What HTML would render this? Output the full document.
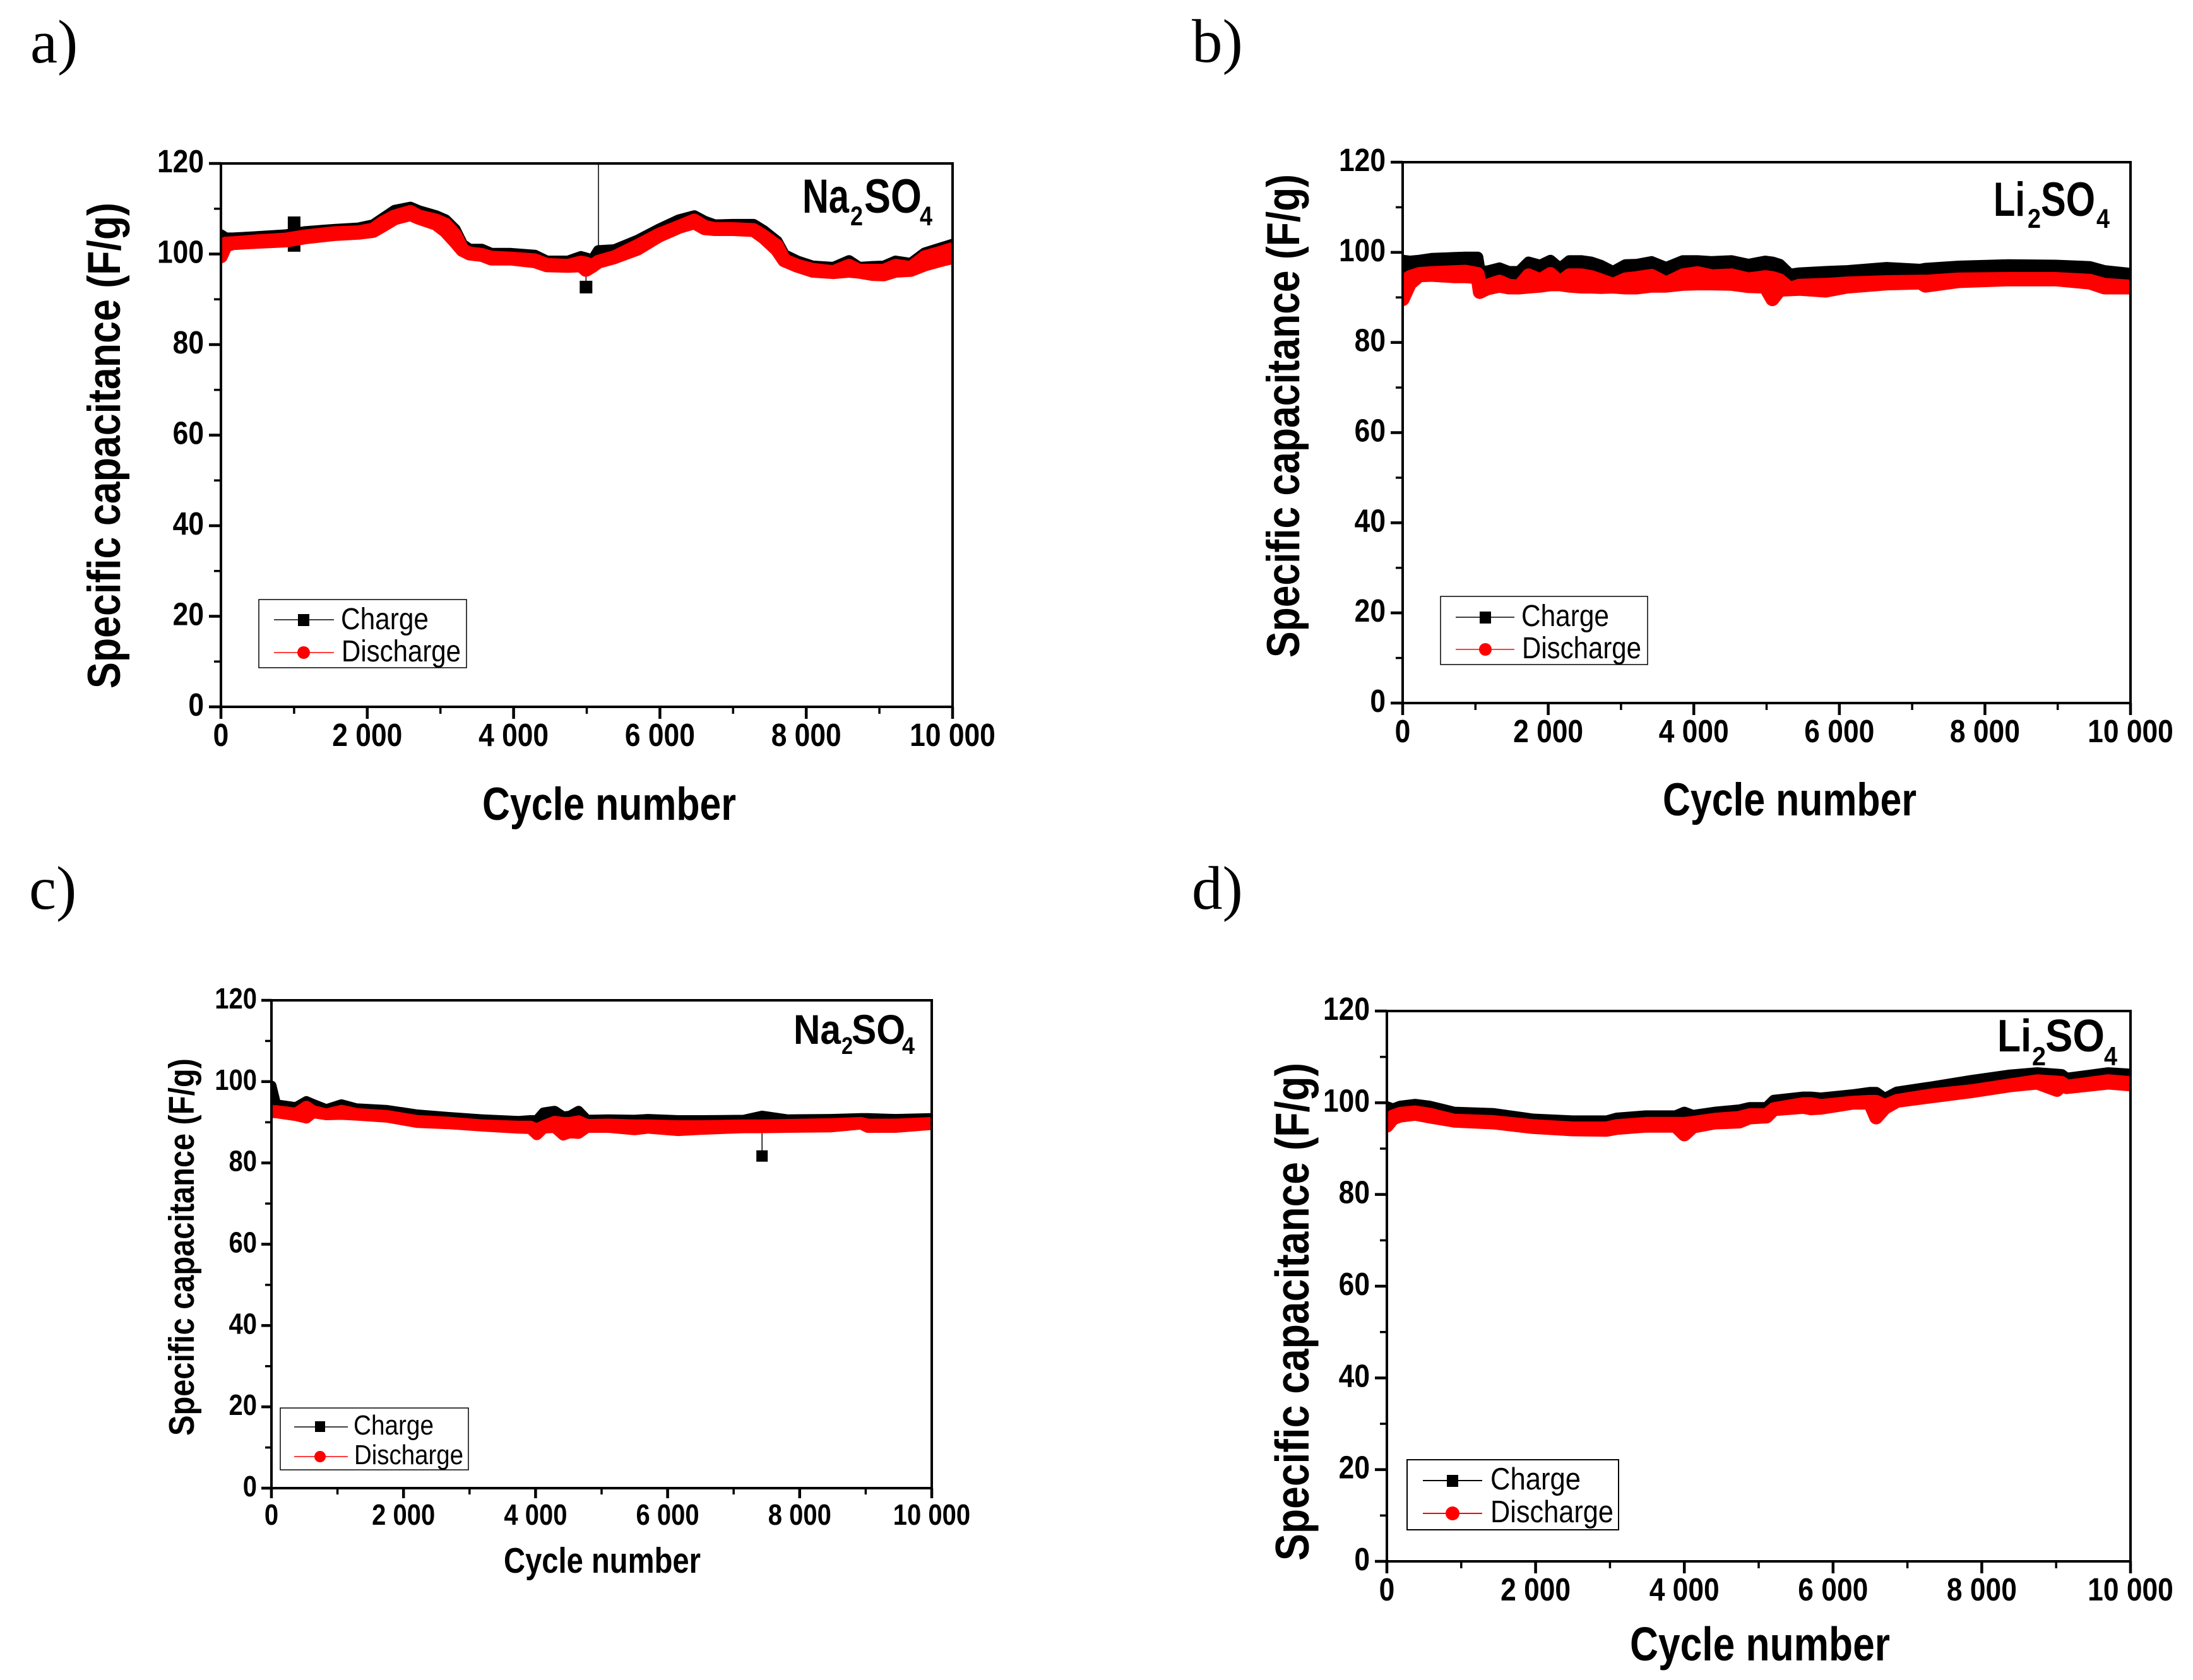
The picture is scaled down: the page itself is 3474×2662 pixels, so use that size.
<!DOCTYPE html>
<html lang="en">
<head>
<meta charset="utf-8">
<title>Specific capacitance vs cycle number</title>
<style>
html,body{margin:0;padding:0;background:#fff;}
svg{display:block;}
text{font-family:"Liberation Sans",Arial,sans-serif;fill:#000;}
.serif{font-family:"Liberation Serif","Times New Roman",serif;}
.b{font-weight:bold;}
</style>
</head>
<body>
<svg id="figure" xmlns="http://www.w3.org/2000/svg" width="3474" height="2662" viewBox="0 0 3474 2662">
<rect width="3474" height="2662" fill="#fff"/>
<defs>
<clipPath id="clip-a"><rect x="350" y="259" width="1159" height="861"/></clipPath>
<clipPath id="clip-b"><rect x="2222" y="257" width="1153" height="857"/></clipPath>
<clipPath id="clip-c"><rect x="430" y="1585" width="1046" height="773"/></clipPath>
<clipPath id="clip-d"><rect x="2197" y="1602" width="1178" height="872"/></clipPath>
</defs>

<!-- Panel a -->
<g id="panel-a">
<text class="serif" x="48" y="99" font-size="97">a)</text>
<text class="b" transform="translate(190,1091) rotate(-90)" font-size="73" textLength="770" lengthAdjust="spacingAndGlyphs">Specific capacitance (F/g)</text>
<text class="b" x="764" y="1299" font-size="73" textLength="402" lengthAdjust="spacingAndGlyphs">Cycle number</text>
<g>
<text class="b" x="1271" y="337" font-size="76" textLength="74" lengthAdjust="spacingAndGlyphs">Na</text>
<text class="b" x="1347" y="357" font-size="43" textLength="20" lengthAdjust="spacingAndGlyphs">2</text>
<text class="b" x="1369" y="337" font-size="76" textLength="91" lengthAdjust="spacingAndGlyphs">SO</text>
<text class="b" x="1457" y="357" font-size="43" textLength="20" lengthAdjust="spacingAndGlyphs">4</text>
</g>
</g>

<!-- Panel b -->
<g id="panel-b">
<text class="serif" x="1888" y="98" font-size="97">b)</text>
<text class="b" transform="translate(2058,1042) rotate(-90)" font-size="73" textLength="766" lengthAdjust="spacingAndGlyphs">Specific capacitance (F/g)</text>
<text class="b" x="2634" y="1292" font-size="73" textLength="402" lengthAdjust="spacingAndGlyphs">Cycle number</text>
<g>
<text class="b" x="3158" y="342" font-size="76" textLength="50" lengthAdjust="spacingAndGlyphs">Li</text>
<text class="b" x="3212" y="361" font-size="43" textLength="21" lengthAdjust="spacingAndGlyphs">2</text>
<text class="b" x="3233" y="342" font-size="76" textLength="86" lengthAdjust="spacingAndGlyphs">SO</text>
<text class="b" x="3321" y="361" font-size="43" textLength="21" lengthAdjust="spacingAndGlyphs">4</text>
</g>
</g>

<!-- Panel c -->
<g id="panel-c">
<text class="serif" x="46" y="1440" font-size="97">c)</text>
<text class="b" transform="translate(307,2275) rotate(-90)" font-size="57" textLength="598" lengthAdjust="spacingAndGlyphs">Specific capacitance (F/g)</text>
<text class="b" x="798" y="2492" font-size="57" textLength="312" lengthAdjust="spacingAndGlyphs">Cycle number</text>
<g>
<text class="b" x="1257" y="1654" font-size="66" textLength="75" lengthAdjust="spacingAndGlyphs">Na</text>
<text class="b" x="1333" y="1670" font-size="38" textLength="18" lengthAdjust="spacingAndGlyphs">2</text>
<text class="b" x="1349" y="1654" font-size="66" textLength="85" lengthAdjust="spacingAndGlyphs">SO</text>
<text class="b" x="1429" y="1670" font-size="38" textLength="20" lengthAdjust="spacingAndGlyphs">4</text>
</g>
</g>

<!-- Panel d -->
<g id="panel-d">
<text class="serif" x="1888" y="1440" font-size="97">d)</text>
<text class="b" transform="translate(2073,2473) rotate(-90)" font-size="75" textLength="789" lengthAdjust="spacingAndGlyphs">Specific capacitance (F/g)</text>
<text class="b" x="2582" y="2631" font-size="75" textLength="412" lengthAdjust="spacingAndGlyphs">Cycle number</text>
<g>
<text class="b" x="3164" y="1666" font-size="72" textLength="54" lengthAdjust="spacingAndGlyphs">Li</text>
<text class="b" x="3219" y="1688" font-size="42" textLength="22" lengthAdjust="spacingAndGlyphs">2</text>
<text class="b" x="3240" y="1666" font-size="72" textLength="94" lengthAdjust="spacingAndGlyphs">SO</text>
<text class="b" x="3333" y="1688" font-size="42" textLength="21" lengthAdjust="spacingAndGlyphs">4</text>
</g>
</g>

<!-- Legends -->
<g>
<rect x="410" y="950" width="329" height="108" fill="#fff" stroke="#000" stroke-width="1.5"/>
<g>
<line x1="434" x2="529" y1="982" y2="982" stroke="#000" stroke-width="1.5"/>
<rect x="472" y="973" width="18" height="19" fill="#000"/>
<text x="540" y="997" font-size="48" textLength="139" lengthAdjust="spacingAndGlyphs">Charge</text>
</g>
<g>
<line x1="434" x2="529" y1="1034" y2="1034" stroke="#f00" stroke-width="1.5"/>
<circle cx="481" cy="1034" r="10" fill="#f00"/>
<text x="541" y="1048" font-size="48" textLength="189" lengthAdjust="spacingAndGlyphs">Discharge</text>
</g>
</g>
<g>
<rect x="2282" y="945" width="328" height="108" fill="#fff" stroke="#000" stroke-width="1.5"/>
<g>
<line x1="2306" x2="2399" y1="978" y2="978" stroke="#000" stroke-width="1.5"/>
<rect x="2344" y="969" width="18" height="19" fill="#000"/>
<text x="2410" y="992" font-size="48" textLength="139" lengthAdjust="spacingAndGlyphs">Charge</text>
</g>
<g>
<line x1="2306" x2="2399" y1="1029" y2="1029" stroke="#f00" stroke-width="1.5"/>
<circle cx="2353" cy="1029" r="10" fill="#f00"/>
<text x="2411" y="1043" font-size="48" textLength="189" lengthAdjust="spacingAndGlyphs">Discharge</text>
</g>
</g>
<g>
<rect x="444" y="2231" width="298" height="98" fill="#fff" stroke="#000" stroke-width="1.5"/>
<g>
<line x1="466" x2="551" y1="2261" y2="2261" stroke="#000" stroke-width="1.5"/>
<rect x="499" y="2252" width="16" height="17" fill="#000"/>
<text x="560" y="2273" font-size="44" textLength="127" lengthAdjust="spacingAndGlyphs">Charge</text>
</g>
<g>
<line x1="466" x2="551" y1="2308" y2="2308" stroke="#f00" stroke-width="1.5"/>
<circle cx="507" cy="2308" r="9" fill="#f00"/>
<text x="561" y="2320" font-size="44" textLength="173" lengthAdjust="spacingAndGlyphs">Discharge</text>
</g>
</g>
<g>
<rect x="2229" y="2313" width="335" height="111" fill="#fff" stroke="#000" stroke-width="2"/>
<g>
<line x1="2254" x2="2348" y1="2346" y2="2346" stroke="#000" stroke-width="2"/>
<rect x="2292" y="2337" width="18" height="19" fill="#000"/>
<text x="2361" y="2360" font-size="49" textLength="143" lengthAdjust="spacingAndGlyphs">Charge</text>
</g>
<g>
<line x1="2254" x2="2348" y1="2398" y2="2398" stroke="#f00" stroke-width="2"/>
<circle cx="2301" cy="2398" r="11" fill="#f00"/>
<text x="2361" y="2412" font-size="49" textLength="195" lengthAdjust="spacingAndGlyphs">Discharge</text>
</g>
</g>
</svg>

<script>
const yTicks = [0, 20, 40, 60, 80, 100, 120];
const yTickLabels = ['0', '20', '40', '60', '80', '100', '120'];
const yMinorTicks = [10, 30, 50, 70, 90, 110];
const xTicks = [0, 2000, 4000, 6000, 8000, 10000];
const xTickLabels = ['0', '2 000', '4 000', '6 000', '8 000', '10 000'];
const xMinorTicks = [1000, 3000, 5000, 7000, 9000];

const aCycles = [0,65,165,495,890,1155,1550,1880,2080,2210,2375,2590,2705,2940,3070,3200,3300,3400,3565,3695,3960,4290,4455,4745,4920,4990,5080,5160,5380,5695,5980,6260,6470,6610,6750,7000,7280,7420,7600,7700,7880,8090,8370,8585,8725,8900,9060,9220,9430,9620,9820,10000];
const aCharge = [104.2,103.5,103.5,103.8,104.2,104.9,105.4,105.7,106.4,107.8,109.6,110.3,109.5,108.4,107.5,105.4,102.1,101.0,101.0,100.1,100.1,99.7,98.4,98.4,99.4,99.1,98.6,100.7,100.9,103.0,105.4,107.5,108.4,107.2,106.4,106.5,106.5,105.1,102.8,99.8,98.4,97.3,97.0,98.5,97.0,97.2,97.3,98.4,97.9,100.2,101.2,102.1];
const aDischargeHigh = [101.1,102.3,102.4,102.8,103.2,103.9,104.6,104.8,105.4,106.9,108.3,109.3,108.3,107.4,106.5,104.2,100.9,100.1,99.8,99.2,99.0,98.6,97.6,97.4,98.1,97.9,97.4,98.3,99.3,101.8,104.2,106.0,107.4,106.0,105.5,105.5,105.3,103.9,101.8,98.6,97.4,96.5,96.0,97.4,96.3,96.3,96.3,97.4,96.9,99.3,100.2,101.1];
const aDischargeLow = [99.5,101.9,102.4,102.7,103.0,103.7,104.4,104.7,105.1,106.3,107.9,108.8,108.0,106.7,105.1,102.8,100.9,100.1,99.8,99.0,99.0,98.4,97.5,97.4,97.5,96.5,97.4,98.3,99.3,101.2,104.0,106.0,107.0,105.7,105.5,105.5,105.3,103.7,101.0,98.6,97.4,96.3,96.0,96.3,96.1,95.6,95.5,96.3,96.5,97.7,98.6,99.3];
const aOutlierCycles = [1000, 1000, 4990, 5160];
const aOutlierValues = [106.9, 101.9, 92.7, 130];

const bCycles = [0,100,230,400,700,860,1030,1060,1160,1330,1460,1600,1730,1890,2030,2160,2290,2460,2590,2720,2890,3060,3220,3420,3620,3850,4050,4250,4520,4750,4980,5080,5180,5320,5450,5810,6110,6650,7110,7180,7640,8310,8970,9440,9640,10000];
const bCharge = [98.2,98.0,98.2,98.6,98.8,98.9,98.9,95.9,95.8,96.5,95.7,95.7,97.8,97.1,98.2,96.4,98.1,98.1,97.8,97.1,95.7,97.2,97.3,97.9,96.6,98.1,98.1,97.9,98.1,97.3,98.0,97.8,97.3,95.1,95.4,95.7,95.9,96.6,96.2,96.4,96.9,97.2,97.1,96.8,95.9,95.3];
const bDischargeHigh = [93.3,94.5,95.2,95.4,95.6,95.7,95.2,92.6,92.6,93.5,92.6,92.4,94.9,93.8,95.2,93.3,94.9,94.9,94.5,93.8,92.8,94.0,94.3,94.8,93.1,94.9,95.4,94.7,94.9,94.0,94.5,94.3,93.8,91.9,92.6,92.8,93.1,93.4,93.5,93.5,94.0,94.1,94.1,93.7,92.8,92.4];
const bDischargeLow = [89.6,93.1,94.9,95.0,94.7,94.7,94.5,91.2,92.0,92.6,92.2,92.2,92.4,92.6,92.9,92.9,92.6,92.4,92.4,92.3,92.4,92.2,92.2,92.6,92.6,93.0,93.1,93.1,93.0,92.5,92.4,89.6,91.7,91.8,91.9,91.5,92.4,93.1,93.3,92.6,93.6,94.0,94.0,93.3,92.2,92.2];
const bOutlierCycles = [];
const bOutlierValues = [];

const cCycles = [0,70,370,530,630,830,1060,1290,1750,2210,2670,3200,3730,3920,4020,4120,4290,4420,4520,4650,4780,5110,5500,5700,6160,6490,7150,7430,7810,8470,8930,9030,9450,10000];
const cCharge = [99.0,94.4,93.7,95.2,94.5,93.2,94.4,93.4,93.0,91.9,91.3,90.7,90.3,90.5,90.5,92.4,92.8,91.4,91.6,92.8,90.6,90.7,90.6,90.8,90.5,90.5,90.6,91.6,90.7,90.8,91.0,91.0,90.8,91.0];
const cDischargeHigh = [92.8,92.8,92.2,93.9,92.8,92.0,92.9,92.1,91.6,90.4,90.0,89.3,89.0,89.0,88.3,89.1,90.2,89.9,89.9,90.3,89.4,89.5,89.3,89.3,89.1,89.1,89.3,89.3,89.4,89.6,89.9,89.5,89.5,89.9];
const cDischargeLow = [92.4,92.4,91.7,91.1,92.4,91.9,92.0,91.8,91.3,90.0,89.7,89.1,88.6,88.5,87.0,88.6,88.8,86.9,87.5,87.3,88.8,88.8,88.2,88.6,88.0,88.3,88.7,88.7,88.8,88.9,89.6,88.8,88.8,89.5];
const cOutlierCycles = [7430];
const cOutlierValues = [81.7];

const dCycles = [0,80,180,380,575,905,1435,1965,2495,2955,3090,3485,3880,4000,4115,4410,4740,4875,5105,5205,5600,5700,5835,6265,6495,6580,6695,6860,7320,7850,8380,8745,9010,9075,9140,9700,10000];
const dCharge = [99.1,98.6,99.2,99.6,99.2,97.9,97.6,96.4,96.0,96.0,96.6,97.1,97.1,97.9,97.2,97.9,98.4,98.9,98.9,100.5,101.2,101.2,101.0,101.7,102.2,102.2,100.9,102.3,103.4,104.8,106.0,106.5,106.2,106.1,105.3,106.5,106.2];
const dDischargeHigh = [95.8,97.0,97.6,97.9,97.4,96.1,95.8,94.9,94.4,94.4,94.9,95.4,95.4,95.4,95.6,96.3,96.7,97.3,97.3,98.6,99.7,99.7,99.3,100.0,100.2,100.2,99.3,100.4,101.6,102.5,103.8,104.7,104.4,104.3,103.5,104.7,104.3];
const dDischargeLow = [95.0,96.6,97.2,97.6,97.0,96.1,95.7,94.7,94.2,94.1,94.5,95.0,95.0,93.1,94.8,95.7,95.9,96.8,97.0,98.6,99.1,98.8,98.9,100.0,100.0,96.8,98.9,100.4,101.4,102.5,103.8,104.4,102.8,103.9,103.4,104.4,104.0];
const dOutlierCycles = [];
const dOutlierValues = [];

const SVG_NS = 'http://www.w3.org/2000/svg';
const X_MAX = 10000;
const Y_MAX = 120;

function labelWidth(label, fontSize, squeeze) {
  let w = 0;
  for (const ch of label) { w += (ch === ' ' ? 0.278 : 0.556); }
  return w * fontSize * squeeze;
}

function nearestValue(cycles, values, c) {
  let best = 0;
  cycles.forEach(function (v, i) { if (Math.abs(v - c) < Math.abs(cycles[best] - c)) best = i; });
  return values[best];
}

function bandPoints(cycles, upper, lower, sx, sy) {
  const pts = [];
  cycles.forEach(function (c, i) { pts.push(sx(c).toFixed(1) + ',' + sy(upper[i]).toFixed(1)); });
  for (let i = cycles.length - 1; i >= 0; i--) { pts.push(sx(cycles[i]).toFixed(1) + ',' + sy(lower[i]).toFixed(1)); }
  return pts.join(' ');
}

function drawPanel(groupId, clipId, box, style, cycles, charge, dischargeHigh, dischargeLow, outlierCycles, outlierValues) {
  const root = document.getElementById(groupId);
  const sx = function (c) { return box.left + (c / X_MAX) * (box.right - box.left); };
  const sy = function (v) { return box.bottom - (v / Y_MAX) * (box.bottom - box.top); };

  const plot = document.createElementNS(SVG_NS, 'g');
  
  
  plot.setAttribute('clip-path', 'url(#' + clipId + ')');
  root.appendChild(plot);

  outlierCycles.forEach(function (c, i) {
    const connector = document.createElementNS(SVG_NS, 'line');
    
    
    connector.setAttribute('x1', sx(c));
    connector.setAttribute('x2', sx(c));
    connector.setAttribute('y1', sy(outlierValues[i]));
    connector.setAttribute('y2', sy(nearestValue(cycles, charge, c)));
    connector.setAttribute('stroke', '#000');
    connector.setAttribute('stroke-width', '1.5');
    plot.appendChild(connector);
    const marker = document.createElementNS(SVG_NS, 'rect');
    
    
    marker.setAttribute('x', sx(c) - style.blackSize / 2 - 1);
    marker.setAttribute('y', sy(outlierValues[i]) - style.blackSize / 2 - 1);
    marker.setAttribute('width', style.blackSize + 2);
    marker.setAttribute('height', style.blackSize + 2);
    marker.setAttribute('fill', '#000');
    plot.appendChild(marker);
  });

  const chargeBand = document.createElementNS(SVG_NS, 'polygon');
  
  
  chargeBand.setAttribute('points', bandPoints(cycles, charge, dischargeHigh, sx, sy));
  chargeBand.setAttribute('fill', '#000');
  chargeBand.setAttribute('stroke', '#000');
  chargeBand.setAttribute('stroke-width', style.blackSize);
  chargeBand.setAttribute('stroke-linejoin', 'round');
  plot.appendChild(chargeBand);

  const dischargeBand = document.createElementNS(SVG_NS, 'polygon');
  
  
  dischargeBand.setAttribute('points', bandPoints(cycles, dischargeHigh, dischargeLow, sx, sy));
  dischargeBand.setAttribute('fill', '#f00');
  dischargeBand.setAttribute('stroke', '#f00');
  dischargeBand.setAttribute('stroke-width', style.redSize);
  dischargeBand.setAttribute('stroke-linejoin', 'round');
  plot.appendChild(dischargeBand);

  const frame = document.createElementNS(SVG_NS, 'rect');
  
  
  frame.setAttribute('x', box.left);
  frame.setAttribute('y', box.top);
  frame.setAttribute('width', box.right - box.left);
  frame.setAttribute('height', box.bottom - box.top);
  frame.setAttribute('fill', 'none');
  frame.setAttribute('stroke', '#000');
  frame.setAttribute('stroke-width', '4');
  root.appendChild(frame);

  yTicks.forEach(function (v, i) {
    const tick = document.createElementNS(SVG_NS, 'line');
    
    
    tick.setAttribute('x1', box.left - style.majorLen);
    tick.setAttribute('x2', box.left);
    tick.setAttribute('y1', sy(v));
    tick.setAttribute('y2', sy(v));
    tick.setAttribute('stroke', '#000');
    tick.setAttribute('stroke-width', '4.5');
    root.appendChild(tick);
    const label = document.createElementNS(SVG_NS, 'text');
    
    
    label.setAttribute('class', 'b');
    label.setAttribute('x', box.left - style.yLabelGap);
    label.setAttribute('y', sy(v) + style.yLabelDrop);
    label.setAttribute('text-anchor', 'end');
    label.setAttribute('font-size', style.tickFont);
    label.setAttribute('textLength', labelWidth(yTickLabels[i], style.tickFont, style.squeeze));
    label.setAttribute('lengthAdjust', 'spacingAndGlyphs');
    label.textContent = yTickLabels[i];
    root.appendChild(label);
  });

  yMinorTicks.forEach(function (v) {
    const tick = document.createElementNS(SVG_NS, 'line');
    
    
    tick.setAttribute('x1', box.left - style.minorLen);
    tick.setAttribute('x2', box.left);
    tick.setAttribute('y1', sy(v));
    tick.setAttribute('y2', sy(v));
    tick.setAttribute('stroke', '#000');
    tick.setAttribute('stroke-width', '3.5');
    root.appendChild(tick);
  });

  xTicks.forEach(function (c, i) {
    const tick = document.createElementNS(SVG_NS, 'line');
    
    
    tick.setAttribute('x1', sx(c));
    tick.setAttribute('x2', sx(c));
    tick.setAttribute('y1', box.bottom);
    tick.setAttribute('y2', box.bottom + style.majorLen);
    tick.setAttribute('stroke', '#000');
    tick.setAttribute('stroke-width', '4.5');
    root.appendChild(tick);
    const label = document.createElementNS(SVG_NS, 'text');
    
    
    label.setAttribute('class', 'b');
    label.setAttribute('x', sx(c));
    label.setAttribute('y', box.bottom + style.xLabelDrop);
    label.setAttribute('text-anchor', 'middle');
    label.setAttribute('font-size', style.tickFont);
    label.setAttribute('textLength', labelWidth(xTickLabels[i], style.tickFont, style.squeeze));
    label.setAttribute('lengthAdjust', 'spacingAndGlyphs');
    label.textContent = xTickLabels[i];
    root.appendChild(label);
  });

  xMinorTicks.forEach(function (c) {
    const tick = document.createElementNS(SVG_NS, 'line');
    
    
    tick.setAttribute('x1', sx(c));
    tick.setAttribute('x2', sx(c));
    tick.setAttribute('y1', box.bottom);
    tick.setAttribute('y2', box.bottom + style.minorLen);
    tick.setAttribute('stroke', '#000');
    tick.setAttribute('stroke-width', '3.5');
    root.appendChild(tick);
  });
}

const largeStyle = { blackSize: 18, redSize: 22, majorLen: 19, minorLen: 11, tickFont: 51, squeeze: 0.87, yLabelGap: 27, yLabelDrop: 14, xLabelDrop: 62 };
const smallStyle = { blackSize: 16, redSize: 18, majorLen: 16, minorLen: 10, tickFont: 46, squeeze: 0.87, yLabelGap: 23, yLabelDrop: 13, xLabelDrop: 58 };

drawPanel('panel-a', 'clip-a', { left: 350, right: 1509, top: 259, bottom: 1120 }, largeStyle, aCycles, aCharge, aDischargeHigh, aDischargeLow, aOutlierCycles, aOutlierValues);
drawPanel('panel-b', 'clip-b', { left: 2222, right: 3375, top: 257, bottom: 1114 }, largeStyle, bCycles, bCharge, bDischargeHigh, bDischargeLow, bOutlierCycles, bOutlierValues);
drawPanel('panel-c', 'clip-c', { left: 430, right: 1476, top: 1585, bottom: 2358 }, smallStyle, cCycles, cCharge, cDischargeHigh, cDischargeLow, cOutlierCycles, cOutlierValues);
drawPanel('panel-d', 'clip-d', { left: 2197, right: 3375, top: 1602, bottom: 2474 }, largeStyle, dCycles, dCharge, dDischargeHigh, dDischargeLow, dOutlierCycles, dOutlierValues);
</script>
</body>
</html>
